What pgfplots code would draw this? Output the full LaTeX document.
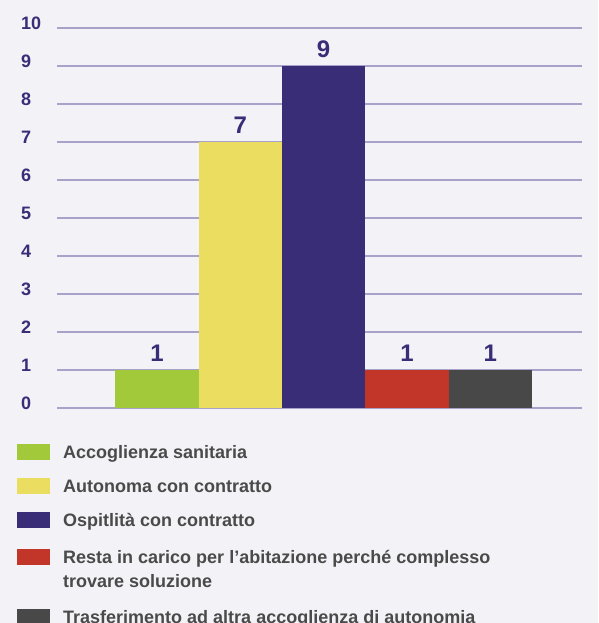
\documentclass[border=0pt]{standalone}
\usepackage{pgfplots}
\pgfplotsset{compat=1.18}
\usepackage{fontspec}
\setmainfont{Liberation Sans}
\definecolor{bgc}{HTML}{F3F2F7}
\definecolor{gridc}{HTML}{A7A2CA}
\definecolor{purp}{HTML}{3A2D78}
\definecolor{c1}{HTML}{A2C93A}
\definecolor{c2}{HTML}{EADD5F}
\definecolor{c3}{HTML}{3A2D78}
\definecolor{c4}{HTML}{C23629}
\definecolor{c5}{HTML}{484848}
\definecolor{legtext}{HTML}{4A4A4A}
\newcommand\ls{\rule[-5pt]{0pt}{18pt}}
\begin{document}
\begin{tikzpicture}
\useasboundingbox (0,0) rectangle (598pt,623pt);
\fill[bgc] (0,0) rectangle (598pt,623pt);
\begin{axis}[
  at={(57pt,215pt)}, anchor=south west,
  scale only axis, width=525pt, height=380pt,
  xmin=-1.2, xmax=5.1, ymin=0, ymax=10,
  ybar, bar width=83.3pt,
  xtick=\empty, ytick={0,1,...,10},
  ymajorgrids, grid style={color=gridc, line width=2pt},
  axis line style={draw=none}, major tick length=0pt,
  clip=false,
  /pgf/number format/assume math mode=true,
  yticklabel style={font=\bfseries\fontsize{18}{20}\selectfont, text=purp, anchor=west, xshift=-36pt, yshift=5pt, inner sep=0pt},
  nodes near coords,
  every node near coord/.append style={font=\bfseries\fontsize{24}{28}\selectfont, text=purp, anchor=south, inner sep=0pt, yshift=8pt},
  legend cell align=left,
  legend image code/.code={\fill[#1] (0pt,-2pt) rectangle (33pt,14pt);},
  legend style={at={(axis description cs:0,0)}, anchor=north west, xshift=-40pt, yshift=-36pt,
    draw=none, fill=none, inner sep=0pt, row sep=15pt,
    font=\bfseries\fontsize{18}{24}\selectfont, text=legtext,
    nodes={inner sep=0pt, anchor=base west, text depth={}},
    /tikz/every odd column/.append style={column sep=13pt}},
]
\addplot[fill=c1, draw=none, bar shift=0pt] coordinates {(0,1)};
\addlegendentry{\ls Accoglienza sanitaria}
\addplot[fill=c2, draw=none, bar shift=0pt] coordinates {(1,7)};
\addlegendentry{\ls Autonoma con contratto}
\addplot[fill=c3, draw=none, bar shift=0pt] coordinates {(2,9)};
\addlegendentry{\ls Ospitlità con contratto}
\addplot[fill=c4, draw=none, bar shift=0pt] coordinates {(3,1)};
\addlegendentry{\begin{tabular}[t]{@{}l@{}}\ls Resta in carico per l’abitazione perché complesso\\trovare soluzione\end{tabular}}
\addplot[fill=c5, draw=none, bar shift=0pt] coordinates {(4,1)};
\addlegendentry{\ls Trasferimento ad altra accoglienza di autonomia}
\end{axis}
\end{tikzpicture}
\end{document}
